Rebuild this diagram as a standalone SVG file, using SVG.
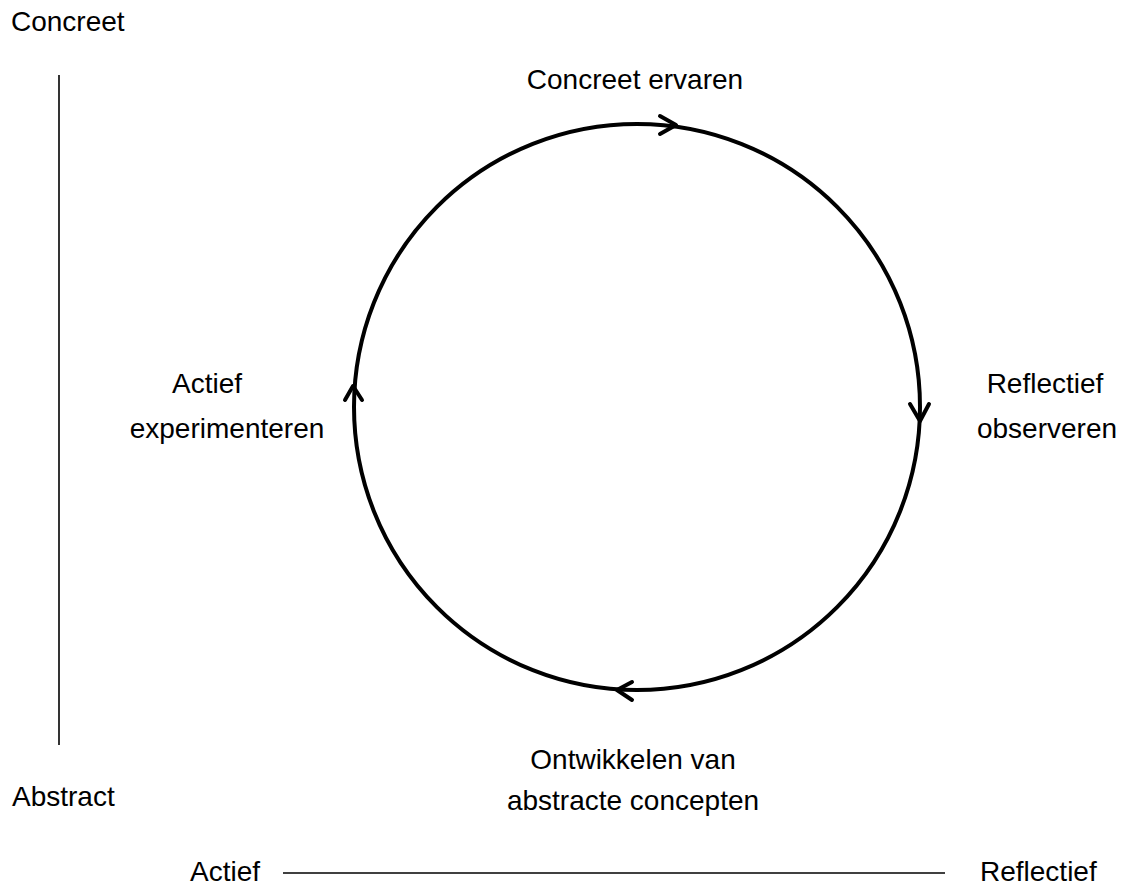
<svg xmlns="http://www.w3.org/2000/svg" width="1122" height="886" viewBox="0 0 1122 886">
<style>
text{font-family:"Liberation Sans",Arial,sans-serif;font-size:28px;fill:#000}
.c{text-anchor:middle}
.ax{stroke:#000;stroke-width:1.6;fill:none}
.cyc{stroke:#000;stroke-width:4;fill:none}
.ah{stroke:#000;stroke-width:4;fill:none;stroke-linecap:round;stroke-linejoin:round}
</style>
<rect width="1122" height="886" fill="#fff"/>
<g id="axes">
<line class="ax" x1="59" y1="75" x2="59" y2="745"/>
<line class="ax" x1="283" y1="873" x2="945" y2="873"/>
</g>
<g id="axis-labels">
<text x="11" y="31">Concreet</text>
<text x="12" y="806">Abstract</text>
<text x="190" y="881">Actief</text>
<text x="980" y="881">Reflectief</text>
</g>
<g id="connectors">
<circle class="cyc" cx="637" cy="407" r="283"/>
<path class="ah" d="M660,116 L676,125 L660,134"/>
<path class="ah" d="M910,404 L920,421 L929,404"/>
<path class="ah" d="M632,682 L617,690 L632,700"/>
<path class="ah" d="M345,400 L353,386 L362,400"/>
</g>
<g id="node-concreet-ervaren"><text class="c" x="635" y="89">Concreet ervaren</text></g>
<g id="node-reflectief-observeren">
<text class="c" x="1045" y="393">Reflectief</text>
<text class="c" x="1047" y="438">observeren</text>
</g>
<g id="node-abstracte-concepten">
<text class="c" x="633" y="769">Ontwikkelen van</text>
<text class="c" x="633" y="810">abstracte concepten</text>
</g>
<g id="node-actief-experimenteren">
<text class="c" x="207" y="393">Actief</text>
<text class="c" x="227" y="438">experimenteren</text>
</g>
</svg>
